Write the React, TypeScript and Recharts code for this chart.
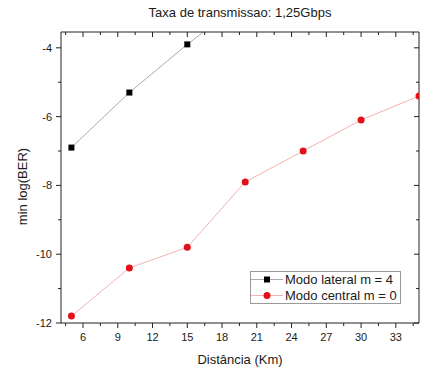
import React from 'react';
import { LineChart, Line, XAxis, YAxis, Legend, Label } from 'recharts';

const distances = [5, 10, 15, 20, 25, 30, 35];
const lateralBER = [-6.9, -5.3, -3.9, -2.6, null, null, null];
const centralBER = [-11.8, -10.4, -9.8, -7.9, -7.0, -6.1, -5.4];

const xMajorTicks = [6, 9, 12, 15, 18, 21, 24, 27, 30, 33];
const xMinorTicks = [4.5, 7.5, 10.5, 13.5, 16.5, 19.5, 22.5, 25.5, 28.5, 31.5, 34.5];
const yMajorTicks = [-12, -10, -8, -6, -4];
const yMinorTicks = [-11, -9, -7, -5];
const xDomain: [number, number] = [4.1, 35];
const yDomain: [number, number] = [-12, -3.54];

const title = 'Taxa de transmissao: 1,25Gbps';
const xLabel = 'Distância (Km)';
const yLabel = 'min log(BER)';
const lateralName = 'Modo lateral m = 4';
const centralName = 'Modo central m = 0';
const legendOrder = ['lateral', 'central'];

const data = distances.map((d, i) => ({ d, lateral: lateralBER[i], central: centralBER[i] }));
const xTicks = [...xMajorTicks, ...xMinorTicks].sort((a, b) => a - b);
const yTicks = [...yMajorTicks, ...yMinorTicks].sort((a, b) => a - b);
const xMajorSet = new Set(xMajorTicks);
const yMajorSet = new Set(yMajorTicks);

const AXIS = '#222';
const TEXT = '#1a1a1a';
const LAT_LINE = '#aaaaaa';
const LAT_MARK = '#000000';
const CEN_LINE = '#f2b2b2';
const CEN_MARK = '#e3101c';

const BottomTick = (p: any) => {
  const major = xMajorSet.has(p.payload.value);
  return (
    <g>
      <line x1={p.x} x2={p.x} y1={p.y} y2={p.y + (major ? 5 : 3)} stroke={AXIS} />
      {major && (
        <text x={p.x} y={p.y + 18} textAnchor="middle" fontSize={11} fill={TEXT}>
          {p.payload.value}
        </text>
      )}
    </g>
  );
};
const TopTick = (p: any) => {
  const major = xMajorSet.has(p.payload.value);
  return <line x1={p.x} x2={p.x} y1={p.y} y2={p.y + (major ? 5 : 3)} stroke={AXIS} />;
};
const LeftTick = (p: any) => {
  const major = yMajorSet.has(p.payload.value);
  return (
    <g>
      <line x1={p.x - (major ? 5 : 3)} x2={p.x} y1={p.y} y2={p.y} stroke={AXIS} />
      {major && (
        <text x={p.x - 9} y={p.y + 4} textAnchor="end" fontSize={11} fill={TEXT}>
          {p.payload.value}
        </text>
      )}
    </g>
  );
};
const RightTick = (p: any) => {
  const major = yMajorSet.has(p.payload.value);
  return <line x1={p.x - (major ? 5 : 3)} x2={p.x} y1={p.y} y2={p.y} stroke={AXIS} />;
};

const SquareDot = (p: any) => {
  if (p.cx == null || p.cy == null || p.value == null) return <g key={p.index} />;
  return <rect key={p.index} x={p.cx - 3} y={p.cy - 3} width={6} height={6} fill={LAT_MARK} />;
};

const YLabelContent = (p: any) => {
  const vb = p.viewBox || { x: 0, y: 32, width: 61, height: 291 };
  const cx = vb.x + 22.5;
  const cy = vb.y + vb.height / 2 + 9;
  return (
    <text x={cx} y={cy} transform={`rotate(-90 ${cx} ${cy})`} textAnchor="middle" dy="0.36em" fontSize={13} fill={TEXT}>
      {yLabel}
    </text>
  );
};

const LegendBox = (props: any) => {
  const payload = [...(props.payload || [])].sort(
    (a: any, b: any) => legendOrder.indexOf(a.dataKey) - legendOrder.indexOf(b.dataKey)
  );
  return (
    <div
      style={{
        border: '1px solid #9a9a9a',
        background: '#fff',
        boxSizing: 'border-box',
        width: 151,
        height: 33,
        fontSize: 13,
        color: TEXT,
      }}
    >
      {payload.map((entry: any) => {
        const isLat = entry.dataKey === 'lateral';
        return (
          <div key={entry.dataKey} style={{ display: 'flex', alignItems: 'center', height: 15.5, lineHeight: '15px' }}>
            <svg width={32} height={15} style={{ display: 'block' }}>
              <line x1={0} x2={32} y1={7.5} y2={7.5} stroke={entry.color} />
              {isLat ? (
                <rect x={13} y={4.5} width={6} height={6} fill={LAT_MARK} />
              ) : (
                <circle cx={16} cy={7.5} r={3.5} fill={CEN_MARK} />
              )}
            </svg>
            <span style={{ marginLeft: 2, whiteSpace: 'nowrap' }}>{entry.value}</span>
          </div>
        );
      })}
    </div>
  );
};

export default function App() {
  return (
    <div style={{ position: 'absolute', left: 0, top: 0, width: 437, height: 372, background: '#fff', fontFamily: '"Liberation Sans", Arial, sans-serif' }}>
      <LineChart width={437} height={372} data={data} margin={{ top: 31, right: 17, bottom: 0, left: 0 }}>
        <XAxis
          dataKey="d"
          type="number"
          domain={xDomain}
          allowDataOverflow
          ticks={xTicks}
          interval={0}
          tickSize={0}
          tickMargin={0}
          tick={BottomTick}
          height={49}
          axisLine={{ stroke: AXIS }}
          label={{ value: xLabel, position: 'insideBottom', offset: 8, fontSize: 13, fill: TEXT }}
        />
        <XAxis
          xAxisId="top"
          orientation="top"
          dataKey="d"
          type="number"
          domain={xDomain}
          allowDataOverflow
          ticks={xTicks}
          interval={0}
          tickSize={0}
          tickMargin={0}
          tick={TopTick}
          height={1}
          axisLine={{ stroke: AXIS }}
          label={{ value: title, position: 'top', offset: 14, fontSize: 13, fill: TEXT }}
        />
        <YAxis
          type="number"
          domain={yDomain}
          allowDataOverflow
          ticks={yTicks}
          interval={0}
          tickSize={0}
          tickMargin={0}
          tick={LeftTick}
          width={61}
          axisLine={{ stroke: AXIS }}
        >
          <Label content={YLabelContent} />
        </YAxis>
        <YAxis
          yAxisId="right"
          orientation="right"
          type="number"
          domain={yDomain}
          allowDataOverflow
          ticks={yTicks}
          interval={0}
          tickSize={0}
          tickMargin={0}
          tick={RightTick}
          width={1}
          axisLine={{ stroke: AXIS }}
        />
        <Legend
          layout="vertical"
          align="center"
          verticalAlign="middle"
          content={LegendBox}
          wrapperStyle={{ left: 250, top: 271, width: 151, height: 33 }}
        />
        <Line
          dataKey="lateral"
          name={lateralName}
          type="linear"
          stroke={LAT_LINE}
          strokeWidth={1}
          dot={SquareDot}
          activeDot={false}
          isAnimationActive={false}
          connectNulls={false}
        />
        <Line
          dataKey="central"
          name={centralName}
          type="linear"
          stroke={CEN_LINE}
          strokeWidth={1}
          dot={{ r: 3.5, fill: CEN_MARK, stroke: 'none' }}
          activeDot={false}
          isAnimationActive={false}
        />
      </LineChart>
    </div>
  );
}
